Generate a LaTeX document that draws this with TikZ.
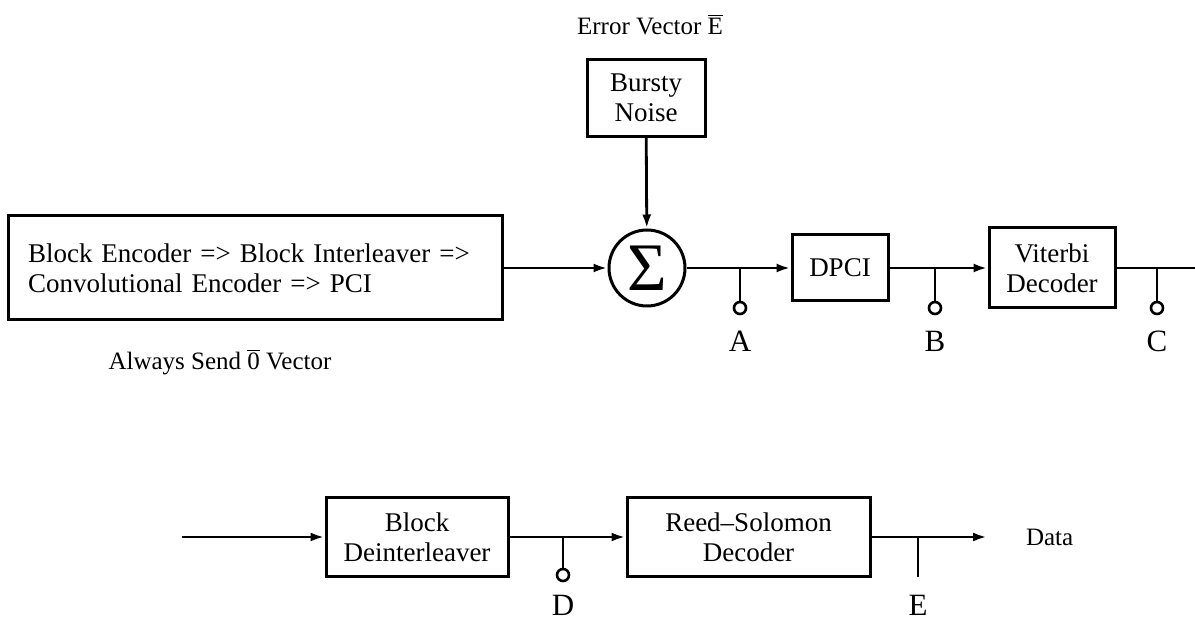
\documentclass[tikz,border=0pt]{standalone}
\usepackage{fontspec}
\setmainfont{Liberation Serif}
\usetikzlibrary{positioning, arrows.meta}

\begin{document}
\begin{tikzpicture}[
  x=0.5pt, y=-0.5pt,
  blk/.style={draw, line width=1.5pt, inner sep=0pt, align=center, font=\fontsize{13.5}{15}\selectfont},
  tap/.style={draw, circle, line width=1.3pt, minimum size=6pt, inner sep=0pt},
  tlab/.style={font=\fontsize{15.5}{18}\selectfont},
  lab/.style={font=\fontsize{12.5}{15}\selectfont},
  >={Latex[length=7pt,width=4.5pt]}, line width=1.4pt,
]
\useasboundingbox (0,0) rectangle (1195,619);
% upper chain
\node[blk, minimum width=247pt, minimum height=52pt, align=left, text width=227pt] (enc) at (255,268) {Block Encoder => Block Interleaver =>\\Convolutional Encoder => PCI};
\node[lab] (zero) at (220,362) {Always Send $\overline{\mbox{0}}$ Vector};
\node[blk, minimum width=59pt, minimum height=38.5pt] (noise) at (646,98) {Bursty\\Noise};
\node[lab] (err) at (650,25) {Error Vector $\overline{\mbox{E}}$};
\node[draw, circle, line width=1.5pt, minimum size=38pt, inner sep=0pt, font=\fontsize{34}{34}\selectfont] (sum) at (647,268) {Σ};
\node[blk, minimum width=48pt, minimum height=33pt] (dpci) at (840,268) {DPCI};
\node[blk, minimum width=63pt, minimum height=40pt] (vit) at (1052,268) {Viterbi\\Decoder};
\coordinate (out) at (1195,268);
\draw[->] (noise) -- (sum);
\draw[->] (enc) -- (sum);
\draw[->] (sum) -- (dpci);
\draw[->] (dpci) -- (vit);
\draw (vit) -- (out);
% test points
\node[tap] (pA) at (740,308) {};
\node[tap] (pB) at (935,308) {};
\node[tap] (pC) at (1157,308) {};
\node[tlab] (lA) at (740,341) {A};
\node[tlab] (lB) at (935,341) {B};
\node[tlab] (lC) at (1157,341) {C};
\coordinate (tA) at (pA |- sum);
\coordinate (tB) at (pB |- sum);
\coordinate (tC) at (pC |- sum);
\draw (tA) -- (pA);
\draw (tB) -- (pB);
\draw (tC) -- (pC);
% lower chain
\node[blk, minimum width=91pt, minimum height=39.5pt] (deint) at (417,537) {Block\\Deinterleaver};
\node[blk, minimum width=121.5pt, minimum height=39.5pt] (rs) at (748.5,537) {Reed–Solomon\\Decoder};
\node[lab, anchor=west] (data) at (1018,537) {Data};
\coordinate (in) at (182,537);
\draw[->] (in) -- (deint);
\draw[->] (deint) -- (rs);
\draw[->, shorten >=15.5pt] (rs) -- (data);
\node[tap] (pD) at (563,575) {};
\node[tlab] (lD) at (563,605) {D};
\coordinate (tD) at (pD |- deint);
\draw (tD) -- (pD);
\coordinate (bE) at (918,577);
\node[tlab] (lE) at (918,605) {E};
\coordinate (tE) at (bE |- rs);
\draw (tE) -- (bE);
\end{tikzpicture}
\end{document}
